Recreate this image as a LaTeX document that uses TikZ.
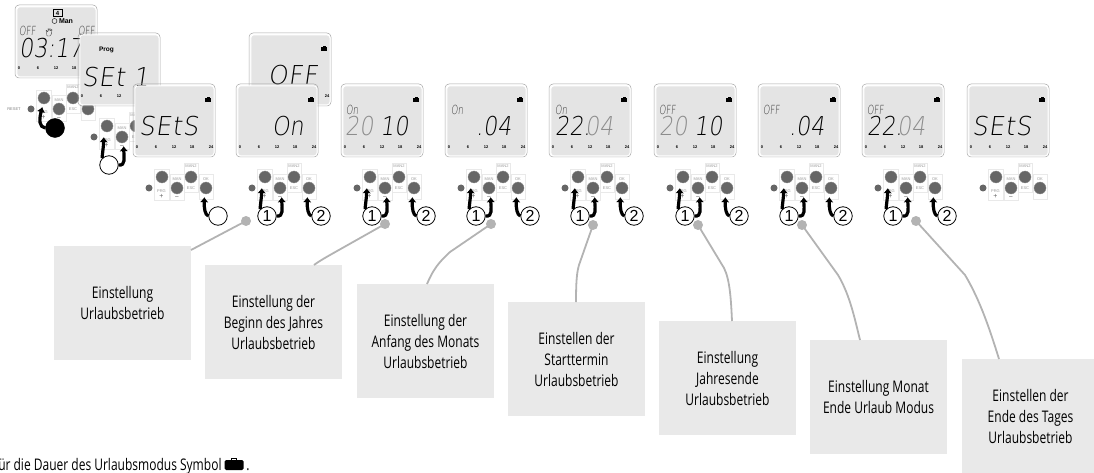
\documentclass[tikz,border=0pt]{standalone}
\usepackage{fontspec}
\setmainfont[FakeStretch=0.75]{Open Sans}
\newfontfamily\lcdf[FakeStretch=0.85,FakeSlant=0.14]{DejaVu Sans ExtraLight}
\newfontfamily\lcdw[FakeStretch=0.95,FakeSlant=0.14,LetterSpace=3]{DejaVu Sans ExtraLight}
\newfontfamily\lcdn[FakeStretch=0.68,FakeSlant=0.1]{DejaVu Sans ExtraLight}
\newfontfamily\tinyf{Liberation Sans}
\newcommand{\fs}[1]{\fontsize{#1}{#1}\selectfont}
\definecolor{lcdbg}{HTML}{E4E4E4}
\definecolor{lbl}{HTML}{E9E9E9}
\definecolor{btn}{HTML}{666666}
\definecolor{lead}{HTML}{B3B3B3}
\usetikzlibrary{arrows.meta}
\tikzset{x=1pt,y=-1pt,
 screen/.style={draw=white,fill=lcdbg,rounded corners=3pt,line width=.8pt,inner sep=0},
 keybox/.style={draw=lbl,fill=white,line width=.7pt},
 keytxt/.style={font=\tinyf\fs{4},text=black!40,inner sep=0},
 keysign/.style={font=\tinyf\fs{7},text=black!60,inner sep=0},
 knob/.style={circle,fill=btn,draw=black!45,line width=.3pt,inner sep=0,minimum size=12pt},
 resetk/.style={circle,fill=btn,inner sep=0,minimum size=7pt},
 numc/.style={circle,draw=black,fill=white,line width=.8pt,inner sep=0,minimum size=18.5pt,font=\tinyf\fs{16}},
 pusharrow/.style={draw=black,line width=3.2pt,shorten >=3pt,-{Latex[length=5pt,width=8.5pt]}},
 leader/.style={draw=lead,line width=1.8pt},
 leaddot/.style={circle,fill=lead,inner sep=0,minimum size=10pt},
 callout/.style={fill=lbl,inner sep=0,align=center,font=\fontsize{16}{21}\selectfont,minimum width=137pt,minimum height=114pt},
 seg/.style={font=\lcdf\fs{26},inner sep=0,anchor=base west},
 segw/.style={font=\lcdw\fs{26},inner sep=0,anchor=base west},
 segdim/.style={font=\lcdf\fs{26},inner sep=0,anchor=base west,text=black!45},
 seglab/.style={font=\lcdn\fs{12.5},inner sep=0,anchor=base west,text=black!80},
 scalemark/.style={font=\tinyf\bfseries\fs{4},inner sep=0}
}
% \lcd{name}{x}{y}{suitcase 1/0}
\newcommand{\lcd}[4]{%
 \begin{scope}[shift={(#2,#3)}]
 \draw[draw=black!35,line width=.5pt,rounded corners=4pt] (0,0) rectangle (82,73);
 \node[screen,minimum width=79pt,minimum height=70pt,anchor=north west] (#1) at (1.5,1.5) {};
 \node[scalemark] at (4,63) {0};
 \node[scalemark] at (23,63) {6};
 \node[scalemark] at (41,63) {12};
 \node[scalemark] at (59,63) {18};
 \node[scalemark] at (78,63) {24};
 \ifnum#4=1 \node[inner sep=0] (#1s) at (75,15.5) {\tikz[x=1pt,y=-1pt]{\fill[black] (0,1) rectangle (6.5,5.5); \draw[black,line width=.5pt] (2,1) -- (2,0) -- (4.5,0) -- (4.5,1);}};\fi
 \end{scope}}
% \pad{name}{x}{y}
\newcommand{\pad}[3]{%
 \begin{scope}[shift={(#2,#3)}]
 \draw[keybox] (21,85) rectangle (36,116);
 \draw[keybox] (37,90) rectangle (51,116);
 \draw[keybox] (51,79) rectangle (65,108);
 \draw[keybox] (66,90) rectangle (80,115);
 \node[keytxt] at (28.5,107) {PRG};
 \node[keysign] at (28.5,112.5) {+};
 \node[keytxt] at (44,95) {MAN};
 \node[keysign] at (44,114) {−};
 \node[keytxt] at (58,82) {MAN2};
 \node[keytxt] at (58,104) {ESC};
 \node[keytxt] at (73,95) {OK};
 \node[resetk] (#1r) at (16,104) {};
 \node[knob] (#1a) at (29,93) {};
 \node[knob] (#1b) at (44,104) {};
 \node[knob] (#1c) at (58,93) {};
 \node[knob] (#1d) at (73,104) {};
 \end{scope}}
% circled number + arrows
\newcommand{\one}[4]{% name x y text
 \begin{scope}[shift={(#2,#3)}]
 \node[numc] (#1u) at (31,132) {#4};
 \draw[pusharrow,shorten >=5pt] (#1u.north west) .. controls (24,123) and (25.5,114) .. ([xshift=-3pt]#1a.south);
 \draw[pusharrow] (#1u.east) .. controls (48,133) and (46,124) .. ([xshift=1.5pt]#1b.south);
 \end{scope}}
\newcommand{\two}[4]{%
 \begin{scope}[shift={(#2,#3)}]
 \node[numc] (#1v) at (85,132) {#4};
 \draw[pusharrow] (#1v.west) .. controls (72,131) and (71,124) .. ([xshift=-1.5pt]#1d.south);
 \end{scope}}
\begin{document}
\begin{tikzpicture}
\useasboundingbox (0,0) rectangle (1094,473);
% screen 1
\lcd{s1}{15}{5}{0}
\node[font=\tinyf\bfseries\fs{6},inner sep=0] (s1d) at (57.5,13) {4};
\draw[black,line width=.5pt] (53,9.5) rectangle (62,16.5);
\node[font=\tinyf\bfseries\fs{7},inner sep=0] (s1m) at (66,21.5) {Man};
\draw[black,line width=.4pt] (54.5,21) circle (2.5);
\node[seglab] (s1o) at (19,36) {OFF};
\draw[black!70,line width=.4pt,rounded corners=.5pt] (47,36) -- (46,30) -- (48,32) -- (48,28) -- (49,31) -- (50,28) -- (50.5,31) -- (52,29) -- (51.5,34) -- (50,36) -- cycle;
\node[seglab] (s1p) at (78,36) {OFF};
\node[seg] (s1t) at (19,58) {03:17};
\pad{p1}{15}{5}
\node[font=\tinyf\fs{4},text=black!50,inner sep=0] (resetl) at (14,109) {RESET};
\node[circle,fill=black,draw=black,inner sep=0,minimum size=19pt] (b1) at (55,128) {};
\draw[pusharrow] (b1.west) .. controls (39,127) and (39,120) .. ([xshift=-1pt]p1a.south);
% screen 2
\lcd{s2}{78}{33}{0}
\node[font=\tinyf\bfseries\fs{6.5},inner sep=0] (s2p) at (106.5,50) {Prog};
\node[segw] (s2t) at (82,87) {SEt 1};
\pad{p2}{78}{33}
\one{p2}{78}{33}{}
% screen 3
\lcd{s3}{133}{84}{1}
\node[segw] (s3t) at (139,136) {SEtS};
\pad{p3}{133}{84}
\two{p3}{133}{84}{}
% off
\lcd{s4b}{249}{33}{1}
\node[segw] (s4bt) at (268,85) {OFF};
\lcd{s4}{236}{84}{1}
\node[seg] (s4t) at (272,136) {On};
\pad{p4}{236}{84}\one{p4}{236}{84}{1}\two{p4}{236}{84}{2}
% 2010
\lcd{s5}{341}{84}{1}
\node[seglab] (s5l) at (346,115) {On};
\node[segdim] (s5a) at (345,136) {20};
\node[seg] (s5b) at (380,136) {10};
\pad{p5}{341}{84}\one{p5}{341}{84}{1}\two{p5}{341}{84}{2}
% .04
\lcd{s6}{445}{84}{1}
\node[seglab] (s6l) at (451,115) {On};
\node[seg] (s6a) at (476,136) {.04};
\pad{p6}{445}{84}\one{p6}{445}{84}{1}\two{p6}{445}{84}{2}
% 22.04
\lcd{s7}{549}{84}{1}
\node[seglab] (s7l) at (555,115) {On};
\node[seg] (s7a) at (555,136) {22.};
\node[segdim] (s7b) at (585,136) {04};
\pad{p7}{549}{84}\one{p7}{549}{84}{1}\two{p7}{549}{84}{2}
% off 2010
\lcd{s8}{654}{84}{1}
\node[seglab] (s8l) at (659,115) {OFF};
\node[segdim] (s8a) at (659,136) {20};
\node[seg] (s8b) at (694,136) {10};
\pad{p8}{654}{84}\one{p8}{654}{84}{1}\two{p8}{654}{84}{2}
% off .04
\lcd{s9}{758}{84}{1}
\node[seglab] (s9l) at (763,115) {OFF};
\node[seg] (s9a) at (789,136) {.04};
\pad{p9}{758}{84}\one{p9}{758}{84}{1}\two{p9}{758}{84}{2}
% off 22.04
\lcd{s10}{862}{84}{1}
\node[seglab] (s10l) at (867,115) {OFF};
\node[seg] (s10a) at (867,136) {22.};
\node[segdim] (s10b) at (897,136) {04};
\pad{p10}{862}{84}\one{p10}{862}{84}{1}\two{p10}{862}{84}{2}
% sets
\lcd{s11}{967}{84}{1}
\node[segw] (s11t) at (972,136) {SEtS};
\pad{p11}{967}{84}
% callouts
\node[callout] (c1) at (122.5,303) {Einstellung\\Urlaubsbetrieb};
\node[callout] (c2) at (273.5,322) {Einstellung der\\Beginn des Jahres\\Urlaubsbetrieb};
\node[callout] (c3) at (425.5,341) {Einstellung der\\Anfang des Monats\\Urlaubsbetrieb};
\node[callout] (c4) at (576.5,359) {Einstellen der\\Starttermin\\Urlaubsbetrieb};
\node[callout] (c5) at (727.5,378) {Einstellung\\Jahresende\\Urlaubsbetrieb};
\node[callout] (c6) at (878.5,397) {Einstellung Monat\\Ende Urlaub Modus};
\node[callout] (c7) at (1030.5,416) {Einstellen der\\Ende des Tages\\Urlaubsbetrieb};
\node[leaddot] (d1) at (246,221) {};
\node[leaddot] (d2) at (385,224) {};
\node[leaddot] (d3) at (491,224) {};
\node[leaddot] (d4) at (593,225) {};
\node[leaddot] (d5) at (698,225) {};
\node[leaddot] (d6) at (802,225) {};
\node[leaddot] (d7) at (916,221) {};
\coordinate (e1) at (191,250);
\coordinate (e2) at (314,265);
\coordinate (e3) at (427,284);
\coordinate (e4) at (576,302);
\coordinate (e5) at (732,321);
\coordinate (e6) at (860,340);
\coordinate (e7) at (999,359);
\draw[leader] (d1.center) -- (e1);
\draw[leader] (d2.center) -- (330,255) .. controls (323,259) and (318,262) .. (e2);
\draw[leader] (d3.center) -- (450,252) .. controls (438,263) and (433,270) .. (e3);
\draw[leader] (d4.center) -- (579,265) .. controls (577,272) and (576,280) .. (e4);
\draw[leader] (d5.center) -- (724,268) .. controls (730,280) and (731,300) .. (e5);
\draw[leader] (d6.center) -- (838,275) .. controls (850,295) and (855,320) .. (e6);
\draw[leader] (d7.center) -- (965,275) .. controls (980,300) and (990,330) .. (e7);
% footer
\node[anchor=base west,inner sep=0,font=\fs{16}] (foot) at (-6,470) {für die Dauer des Urlaubsmodus Symbol \tikz[x=1pt,y=-1pt,baseline=0pt]{\fill[black,rounded corners=1.5pt] (0,-10) rectangle (19,0); \draw[black,line width=.7pt] (7,-10) -- (7,-12) -- (12,-12) -- (12,-10);}\,.};
\end{tikzpicture}
\end{document}
